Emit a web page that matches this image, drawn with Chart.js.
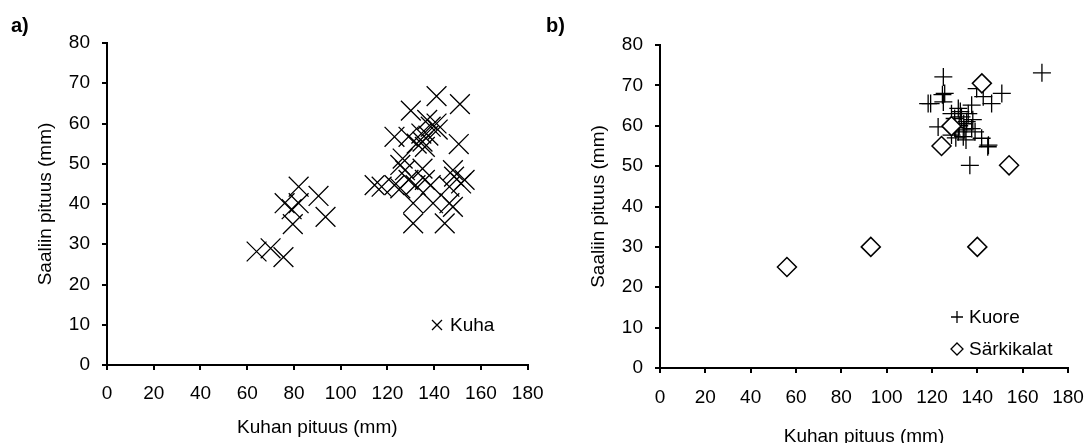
<!DOCTYPE html>
<html>
<head>
<meta charset="utf-8">
<script src="https://cdn.jsdelivr.net/npm/chart.js@4.4.1/dist/chart.umd.min.js"></script>
<style>
html, body { margin: 0; padding: 0; background: #fff; width: 1086px; height: 443px; overflow: hidden; }
.panel { position: absolute; top: 0; }
.tag { position: absolute; z-index: 2; font: bold 20px 'Liberation Sans', Arial, sans-serif; color: #000; }
</style>
</head>
<body>
<div class="panel" style="left:0; width:543px; height:443px;"><canvas id="chartA" width="543" height="443"></canvas></div>
<div class="panel" style="left:543px; width:543px; height:460px;"><canvas id="chartB" width="543" height="460"></canvas></div>
<div class="tag" style="left:11px; top:14px;">a)</div>
<div class="tag" style="left:546px; top:14px;">b)</div>
<script>
// a) Kuha
const kuhaX = [82, 90.5, 76, 79, 82, 93.5, 79.5, 64, 70, 75.5,
  141, 151, 130, 137, 141, 138.5, 123, 129, 135, 136, 150.5, 126.5, 125.5,
  134.5, 137.5, 132.5, 141.5,
  114.5, 117.5, 123, 125.5, 129, 132, 136, 138.5, 148.5, 151.5, 146.5,
  131, 139.5, 146.5, 148, 131, 144.5,
  127.5, 135, 148, 153];
const kuhaY = [44.3, 42, 40.2, 38.7, 40.2, 36.8, 35, 28.2, 29, 26.8,
  66.8, 64.8, 63.2, 60.9, 60, 59.2, 56.7, 56.7, 55.5, 54.2, 54.9, 51.3, 49.7,
  57.5, 57, 55, 58.5,
  44.7, 44.3, 44.7, 43.9, 46, 44.7, 46, 44.7, 46.8, 45.1, 44.3,
  40.2, 40.2, 40.2, 39.3, 35.2, 35.2,
  48.4, 48.8, 48.4, 46];

// b) Kuore
const kuoreX = [125, 124.6, 119.4, 125, 142.6, 150.8, 139.7, 146.3, 137.5, 131.6,
  128.6, 130, 133, 135.3, 137.5, 139, 131.6, 133.8, 128.6, 141.9, 144.9, 136.7,
  168.5, 122.7, 125.6, 118.3, 144.6, 132, 134.5, 136, 130.5, 135,
  130, 134, 138, 132.5];
const kuoreY = [72.1, 67.7, 65.5, 65.9, 67.2, 68, 69.2, 65.5, 65.1, 64.3,
  63, 61.8, 62.2, 61, 59.3, 58.5, 58.5, 57.3, 57.7, 56.9, 55.2, 50.2,
  73.1, 59.7, 68, 65.5, 54.8, 60, 59, 63, 57, 56.5,
  59.5, 60.5, 61.5, 63.5];

// b) Särkikalat
const sarkiX = [56, 93, 140, 142, 128.6, 124.2, 154];
const sarkiY = [25, 30, 30, 70.5, 59.9, 55, 50.2];

const xTickValues = [0, 20, 40, 60, 80, 100, 120, 140, 160, 180];
const yTickValues = [0, 10, 20, 30, 40, 50, 60, 70, 80];

const FONT = "'Liberation Sans', Arial, sans-serif";
const font = { family: FONT, size: 19 };

function pts(xs, ys) {
  return xs.map((x, i) => ({ x: x, y: ys[i] }));
}

// simple in-plot key, drawn like the Excel legend
const keyBox = {
  id: 'keyBox',
  afterDraw(chart, args, opts) {
    const ctx = chart.ctx;
    ctx.save();
    ctx.font = '19px ' + FONT;
    ctx.fillStyle = '#000';
    ctx.strokeStyle = '#000';
    ctx.lineWidth = 1.3;
    ctx.textBaseline = 'middle';
    (opts.items || []).forEach(it => {
      const x = it.x, y = it.y, r = it.size;
      ctx.beginPath();
      if (it.style === 'crossRot') {
        ctx.moveTo(x - r, y - r); ctx.lineTo(x + r, y + r);
        ctx.moveTo(x + r, y - r); ctx.lineTo(x - r, y + r);
      } else if (it.style === 'cross') {
        ctx.moveTo(x - r, y); ctx.lineTo(x + r, y);
        ctx.moveTo(x, y - r); ctx.lineTo(x, y + r);
      } else {
        ctx.moveTo(x, y - r); ctx.lineTo(x + r, y);
        ctx.lineTo(x, y + r); ctx.lineTo(x - r, y);
        ctx.closePath();
      }
      ctx.stroke();
      ctx.fillText(it.text, it.tx, y + 1);
    });
    ctx.restore();
  }
};

function axes(o) {
  return {
    x: {
      type: 'linear',
      min: xTickValues[0], max: xTickValues[xTickValues.length - 1],
      ticks: { stepSize: xTickValues[1] - xTickValues[0], autoSkip: false, maxRotation: 0,
        color: '#000', font: font, padding: o.xTickPad },
      grid: { drawOnChartArea: false, tickLength: 5, color: '#000', lineWidth: 2 },
      border: { color: '#000', width: 2 },
      title: { display: true, text: 'Kuhan pituus (mm)', color: '#000', font: font,
        padding: { top: 0, bottom: o.xTitlePad } },
      afterFit(s) { s.height = o.xHeight; s.paddingLeft = 0; s.paddingRight = 0; }
    },
    y: {
      type: 'linear',
      min: yTickValues[0], max: yTickValues[yTickValues.length - 1],
      ticks: { stepSize: yTickValues[1] - yTickValues[0], color: '#000', font: font, padding: 12 },
      grid: { drawOnChartArea: false, tickLength: 5, color: '#000', lineWidth: 2 },
      border: { color: '#000', width: 2 },
      title: { display: true, text: 'Saaliin pituus (mm)', color: '#000', font: font,
        padding: { top: o.yTitlePad, bottom: 0 } },
      afterFit(s) { s.width = o.yWidth; s.paddingTop = 0; s.paddingBottom = 0; }
    }
  };
}

new Chart(document.getElementById('chartA'), {
  type: 'scatter',
  data: {
    datasets: [{
      label: 'Kuha',
      data: pts(kuhaX, kuhaY),
      pointStyle: 'crossRot',
      pointRadius: 14,
      borderColor: '#000',
      backgroundColor: 'transparent',
      borderWidth: 1.3
    }]
  },
  options: {
    responsive: false,
    animation: false,
    layout: { padding: { left: 0, top: 43, right: 13, bottom: 0 } },
    scales: axes({ xHeight: 78, xTickPad: 12, xTitlePad: 4, yWidth: 107, yTitlePad: 34 }),
    plugins: {
      legend: { display: false },
      tooltip: { enabled: false },
      keyBox: { items: [{ style: 'crossRot', size: 5, x: 437, y: 325, tx: 450, text: 'Kuha' }] }
    }
  },
  plugins: [keyBox]
});

new Chart(document.getElementById('chartB'), {
  type: 'scatter',
  data: {
    datasets: [{
      label: 'Kuore',
      data: pts(kuoreX, kuoreY),
      pointStyle: 'cross',
      pointRadius: 9,
      borderColor: '#000',
      backgroundColor: 'transparent',
      borderWidth: 1.3,
      order: 1
    }, {
      label: 'Särkikalat',
      data: pts(sarkiX, sarkiY),
      pointStyle: 'rectRot',
      pointRadius: 9.5,
      borderColor: '#000',
      backgroundColor: '#fff',
      borderWidth: 1.5,
      order: 0
    }]
  },
  options: {
    responsive: false,
    animation: false,
    layout: { padding: { left: 0, top: 45, right: 18, bottom: 0 } },
    scales: axes({ xHeight: 92, xTickPad: 13, xTitlePad: 12, yWidth: 117, yTitlePad: 44 }),
    plugins: {
      legend: { display: false },
      tooltip: { enabled: false },
      keyBox: { items: [
        { style: 'cross', size: 6, x: 414, y: 317, tx: 426, text: 'Kuore' },
        { style: 'rectRot', size: 6, x: 414, y: 349, tx: 426, text: 'Särkikalat' }
      ] }
    }
  },
  plugins: [keyBox]
});
</script>
</body>
</html>
